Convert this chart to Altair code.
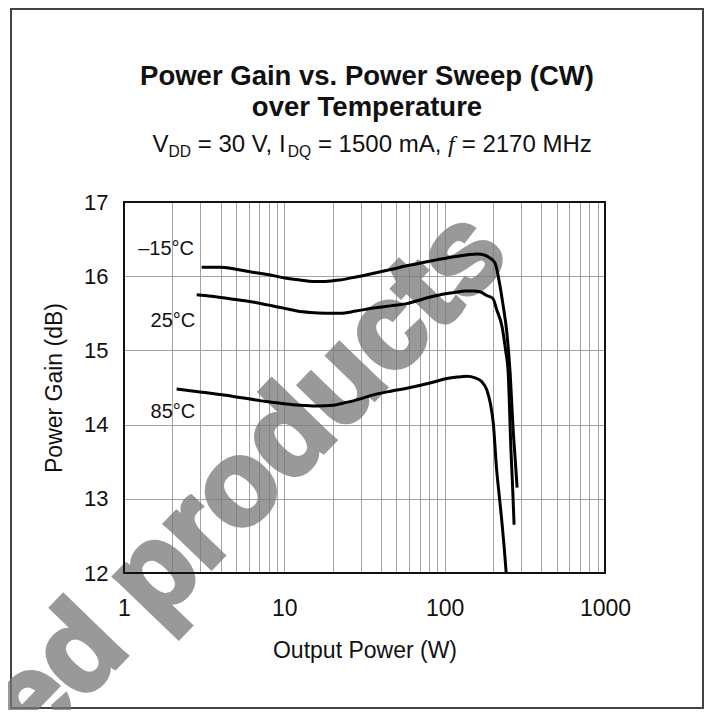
import altair as alt
import pandas as pd

# ---- data ----
TEMPS = ["-15°C", "25°C", "85°C"]

P_M15 = [3.05, 4.0, 4.8, 6.1, 8.0, 9.9, 12.5, 15.1, 18.0, 22.3, 28.0, 36.0, 46.0, 58.0, 72.0, 89.0,
         105, 120, 140, 160, 175, 190, 206, 218, 231, 244, 256, 267, 276, 283]
G_M15 = [16.12, 16.12, 16.10, 16.06, 16.02, 15.98, 15.95, 15.93, 15.93, 15.95, 15.99, 16.04, 16.09, 16.14,
         16.18, 16.22, 16.25, 16.27, 16.29, 16.30, 16.29, 16.25, 16.18, 15.95, 15.62, 15.25, 14.70, 13.95,
         13.50, 13.15]

P_25 = [2.84, 3.5, 4.79, 6.1, 8.0, 9.9, 12.0, 14.5, 18.0, 22.3, 28.0, 36.0, 46.0, 58.0, 75.0, 94.0,
        115, 135, 151, 166, 183, 200, 211, 228, 240, 249, 259, 266, 271]
G_25 = [15.75, 15.73, 15.69, 15.66, 15.61, 15.57, 15.53, 15.51, 15.50, 15.50, 15.53, 15.57, 15.60, 15.63,
        15.70, 15.75, 15.78, 15.80, 15.80, 15.79, 15.74, 15.70, 15.55, 15.32, 15.00, 14.70, 13.66, 13.10,
        12.65]

P_85 = [2.13, 2.98, 4.81, 7.77, 10.0, 12.5, 16.0, 20.2, 22.3, 28.0, 35.9, 46.0, 58.0, 81.0, 103, 120,
        137, 155, 170, 183, 193, 201, 211, 220, 227, 235, 242]
G_85 = [14.48, 14.44, 14.38, 14.31, 14.28, 14.26, 14.25, 14.26, 14.28, 14.33, 14.40, 14.45, 14.49, 14.56,
        14.62, 14.64, 14.65, 14.63, 14.58, 14.47, 14.28, 14.02, 13.39, 13.00, 12.71, 12.35, 12.00]

LABEL_TEXT = ["\u201315°C", "25°C", "85°C"]
LABEL_X = [1.83, 2.02, 2.02]
LABEL_Y = [16.29, 15.32, 14.085]

X_LABELS = [1, 10, 100, 1000]
X_GRID = [1, 2, 3, 4, 5, 6, 7, 8, 9,
          10, 20, 30, 40, 50, 60, 70, 80, 90,
          100, 200, 300, 400, 500, 600, 700, 800, 900, 1000]
Y_TICKS = [12, 13, 14, 15, 16, 17]

# ---- tables ----
rows = []
for t, P, G in zip(TEMPS, [P_M15, P_25, P_85], [G_M15, G_25, G_85]):
    for i, (p, g) in enumerate(zip(P, G)):
        rows.append({"temp": t, "pout": p, "gain": g, "idx": i})
df = pd.DataFrame(rows)
lab_df = pd.DataFrame({"label": LABEL_TEXT, "pout": LABEL_X, "gain": LABEL_Y})

FONT = "Liberation Sans"
W, H = 481, 371

xscale = alt.Scale(type="log", domain=[1, 1000], nice=False)
yscale = alt.Scale(domain=[12, 17], nice=False, zero=False)

label_expr = "indexof(" + str(X_LABELS) + ", datum.value) >= 0 ? format(datum.value, 'd') : ''"

xaxis = alt.Axis(values=X_GRID, grid=True, gridColor="#a3a3a3", gridWidth=1, ticks=False, domain=False,
                 labelExpr=label_expr, labelFontSize=23, labelPadding=24, labelColor="#111",
                 labelFlush=False, labelOverlap=False, title="Output Power (W)", titleFontSize=23,
                 titleFontWeight="normal", titleColor="#111", titleY=84, titleBaseline="alphabetic")
yaxis = alt.Axis(values=Y_TICKS, grid=True, gridColor="#a3a3a3", gridWidth=1, ticks=False, domain=False,
                 labelExpr="format(datum.value, 'd')", labelFontSize=22, labelPadding=16, labelColor="#111",
                 labelOverlap=False, title="Power Gain (dB)", titleFontSize=23, titleFontWeight="normal",
                 titleColor="#111", titleAngle=270, titleX=-70, titleY=H / 2, titleBaseline="middle",
                 titleAlign="center")

one = alt.Data(values=[{}])


def piece(text, x, y, size, weight="normal", align="left", font=FONT, style="normal", color="#111",
          angle=0, opacity=1.0, stroke_w=0):
    kw = {}
    if stroke_w:
        kw = {"stroke": color, "strokeWidth": stroke_w}
    return alt.Chart(one).mark_text(text=text, fontSize=size, fontWeight=weight, align=align,
                                    baseline="alphabetic", font=font, fontStyle=style, color=color,
                                    angle=angle, opacity=opacity, **kw).encode(x=alt.value(x), y=alt.value(y))


watermark = piece("ed products", 149, 302, 120, weight="bold", align="center", color="#777777",
                  angle=314, opacity=0.75, stroke_w=5)

lines = alt.Chart(df).mark_line(color="black", strokeWidth=3, interpolate="monotone").encode(
    x=alt.X("pout:Q", scale=xscale, axis=xaxis),
    y=alt.Y("gain:Q", scale=yscale, axis=yaxis),
    detail="temp:N",
    order="idx:Q",
)

labels = alt.Chart(lab_df).mark_text(fontSize=20, font=FONT, color="#111", align="center",
                                     baseline="alphabetic").encode(
    x=alt.X("pout:Q", scale=xscale), y=alt.Y("gain:Q", scale=yscale), text="label:N")

border = alt.Chart(one).mark_rect(fillOpacity=0, stroke="#111", strokeWidth=2).encode(
    x=alt.value(0), x2=alt.value(W), y=alt.value(0), y2=alt.value(H))

frame = alt.Chart(one).mark_rect(fillOpacity=0, stroke="#444", strokeWidth=2).encode(
    x=alt.value(-113), x2=alt.value(579), y=alt.value(-193), y2=alt.value(506))

titles = [
    piece("Power Gain vs. Power Sweep (CW)", 243, -117, 27.5, weight="bold", align="center"),
    piece("over Temperature", 243, -86, 27.5, weight="bold", align="center"),
    piece("V", 28.5, -50, 24),
    piece("DD", 44.5, -45, 15.6),
    piece("= 30 V, I", 73.7, -50, 24),
    piece("DQ", 163.8, -45, 15.6),
    piece("= 1500 mA,", 193.9, -50, 24),
    piece("f", 324, -50, 24, font="Liberation Serif", style="italic"),
    piece("= 2170 MHz", 337.7, -50, 24),
]

chart = alt.layer(frame, watermark, lines, labels, border, *titles).properties(
    width=W, height=H,
    autosize=alt.AutoSizeParams(type="none"),
    padding={"left": 116, "top": 194, "right": 100, "bottom": 137},
).configure_view(stroke=None).configure_axis(labelFont=FONT, titleFont=FONT).configure_text(font=FONT)

chart.save("out.html", embed_options={"renderer": "svg", "actions": False})
